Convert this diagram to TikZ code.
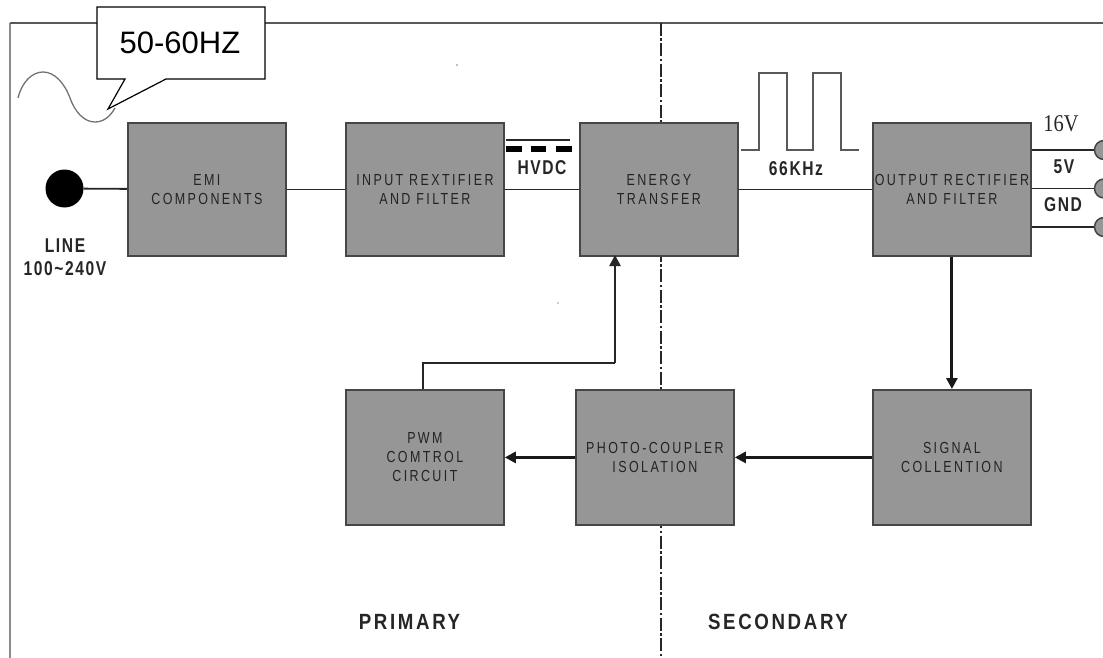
\documentclass[tikz,border=0pt]{standalone}
\usepackage{fontspec}
\setmainfont{Liberation Sans}
\usetikzlibrary{arrows.meta,calc}
\definecolor{boxgray}{RGB}{150,150,150}
\definecolor{edgegray}{RGB}{70,70,70}
\definecolor{txtgray}{RGB}{35,35,35}
\newfontfamily\boxfont[FakeStretch=0.78,LetterSpace=15]{Liberation Sans}
\newfontfamily\labfont[FakeStretch=0.78,LetterSpace=8]{Liberation Sans}
\newfontfamily\widefont[FakeStretch=0.85,LetterSpace=12]{Liberation Sans}
\newfontfamily\serfont[FakeStretch=0.85]{Liberation Serif}
\tikzset{
 blockbox/.style={draw=edgegray,line width=1.8pt,fill=boxgray,minimum width=158pt,minimum height=133pt,inner sep=0pt,align=center,text=txtgray,font=\boxfont\fontsize{16}{19}\selectfont},
 wire/.style={line width=1.8pt,draw=black!85},
 thick wire/.style={line width=3pt,draw=black!90,-{Triangle[length=11pt,width=11pt]}},
 lab/.style={inner sep=0pt,align=center,text=black!85,font=\labfont\bfseries\fontsize{20}{23}\selectfont},
 framel/.style={line width=1.8pt,draw=black!65},
 term/.style={circle,draw=edgegray,fill=boxgray,line width=1.5pt,minimum size=19pt,inner sep=0pt}
}
\begin{document}
\begin{tikzpicture}[x=1pt,y=-1pt]
\useasboundingbox (0,0) rectangle (1103,658);
\fill[white] (0,0) rectangle (1103,658);
% frame
\coordinate (fb) at (10,658); \coordinate (fc) at (10,23); \coordinate (fr) at (1103,23);
\draw[line width=2.2pt,draw=black!45] (fb) -- (fc);
\draw[framel] (fc) -- (fr);
% isolation
\coordinate (d0) at (661,23); \coordinate (d1) at (661,658);
\draw[line width=1.5pt,draw=black!85,dash pattern=on 13pt off 2.5pt on 2.5pt off 2.5pt] (d0) -- (d1);
% blocks
\node[blockbox,anchor=north west] (emi) at (127,122) {EMI\\COMPONENTS};
\node[blockbox,anchor=north west] (inp) at (345,122) {INPUT REXTIFIER\\AND FILTER};
\node[blockbox,anchor=north west] (ene) at (579,122) {ENERGY\\TRANSFER};
\node[blockbox,anchor=north west] (out) at (872,122) {OUTPUT RECTIFIER\\AND FILTER};
\node[blockbox,anchor=north west,minimum height=135pt] (pwm) at (345,389) {PWM\\COMTROL\\CIRCUIT};
\node[blockbox,anchor=north west,minimum height=135pt] (pho) at (575,389) {PHOTO-COUPLER\\ISOLATION};
\node[blockbox,anchor=north west,minimum height=135pt] (sig) at (872,389) {SIGNAL\\COLLENTION};
% line input
\node[circle,fill=black,minimum size=38pt,inner sep=0pt] (line) at (64.5,188.5) {};
\draw[wire] (line) -- (emi);
\draw[wire] (emi) -- (inp);
\draw[wire] (inp) -- (ene);
\draw[wire] (ene) -- (out);
% outputs
\node[term] (t1) at (1104,150) {};
\node[term] (t2) at (1104,188.5) {};
\node[term] (t3) at (1104,227) {};
\draw[wire] (out.east |- t1) -- (t1);
\draw[wire] (out.east |- t2) -- (t2);
\draw[wire] (out.east |- t3) -- (t3);
% feedback
\draw[thick wire] (out.south) -- (out.south |- sig.north);
\draw[thick wire] (sig.west) -- (pho.east);
\draw[thick wire] (pho.west) -- (pwm.east);
\coordinate (up) at (615,363);
\coordinate (tg) at (615,255);
\coordinate (pw) at (423,389);
\draw[wire] (pw) -- (pw |- up) -- (up);
\draw[line width=2.4pt,draw=black!85,-{Triangle[length=11pt,width=11pt]}] (up) -- (tg);
% labels
\node[lab] (l1) at (65,257) {LINE\\100\textasciitilde240V};
\node[lab] (hv) at (542,168) {HVDC};
\node[lab] (kh) at (796,169) {66KHz};
\node[lab,font=\widefont\bfseries\fontsize{22}{24}\selectfont] (pr) at (409.5,622) {PRIMARY};
\node[lab,font=\widefont\bfseries\fontsize{22}{24}\selectfont] (se) at (778,622) {SECONDARY};
\node[inner sep=0pt,text=black!85,font=\serfont\fontsize{24}{26}\selectfont] (v16) at (1061,124) {16V};
\node[lab] (v5) at (1064,167) {5V};
\node[lab] (gnd) at (1063,205) {GND};
% DC symbol
\draw[line width=1.8pt,draw=black!85] (506,140) -- (570,140);
\draw[line width=6pt,draw=black] (506,149.5) -- (522,149.5) (531,149.5) -- (546,149.5) (556,149.5) -- (572,149.5);
% pulse
\draw[line width=1.8pt,draw=black!65] (741,150) -- (759,150) -- (759,73) -- (787,73) -- (787,150) -- (813,150) -- (813,73) -- (841,73) -- (841,150) -- (859,150);
% sine
\draw[line width=1.3pt,draw=black!55] (18,98) .. controls (22,82) and (32,72) .. (43,72) .. controls (54,72) and (64,82) .. (70,98) .. controls (75,112) and (84,122) .. (95,122) .. controls (103,122) and (110,117) .. (115,108);
% callout
\draw[line width=1.2pt,fill=white] (97,7) -- (265,7) -- (265,79) -- (166,79) -- (108,109) -- (125,79) -- (97,79) -- cycle;
\node[inner sep=0pt,font=\fontsize{31}{34}\selectfont] (cb) at (180,43) {50-60HZ};
% specks
\fill[black!50] (457,65) circle (0.8pt);
\fill[black!40] (558,303) circle (0.8pt);
\end{tikzpicture}
\end{document}
